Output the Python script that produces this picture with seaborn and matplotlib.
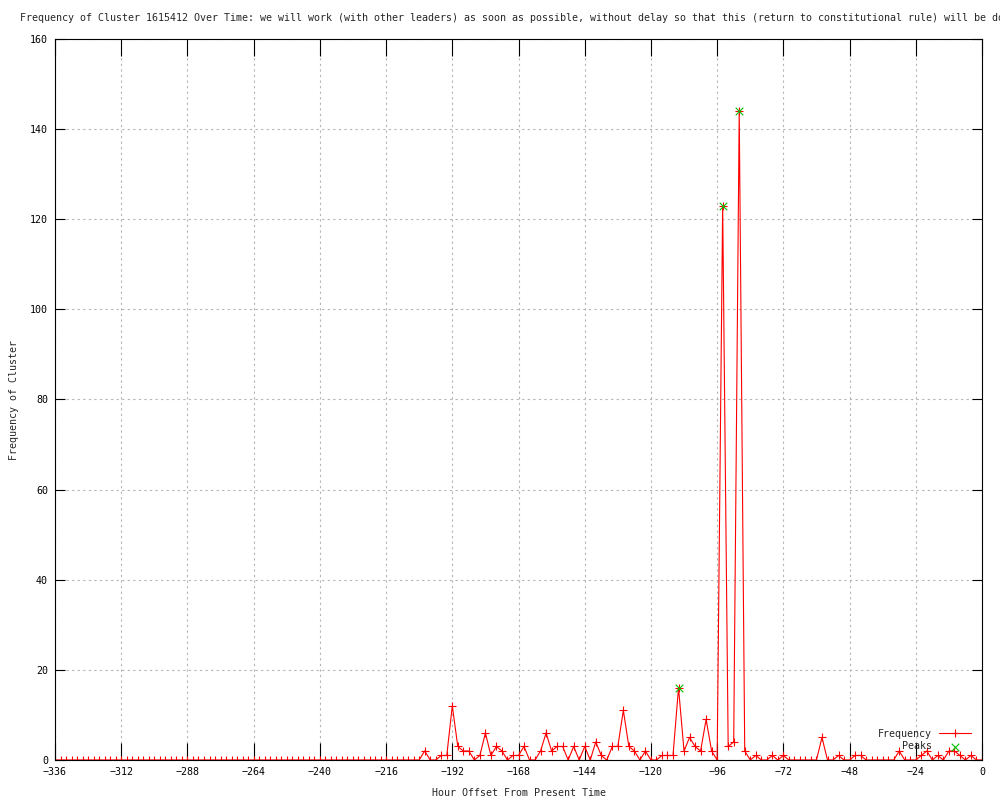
import numpy as np
import matplotlib
matplotlib.use("Agg")
import matplotlib.pyplot as plt
import seaborn as sns

sns.set_style("white")
plt.rcParams['font.family'] = ['DejaVu Sans Mono', 'DejaVu Sans']
plt.rcParams['font.size'] = 7.2

# hour offsets, one sample every 2 hours from -336 to 0
hours = np.arange(-336, 1, 2)

# frequency per sample (all zero until -204)
freq = [0] * 67 + [
    2, 0, 0, 1, 1, 12, 3, 2, 2, 0,        # -202 .. -184
    1, 6, 1, 3, 2, 0, 1, 1, 3, 0,         # -182 .. -164
    0, 2, 6, 2, 3, 3, 0, 3, 0, 3,         # -162 .. -144
    0, 4, 1, 0, 3, 3, 11, 3, 2, 0,        # -142 .. -124
    2, 0, 0, 1, 1, 1, 16, 2, 5, 3,        # -122 .. -104
    2, 9, 2, 0, 123, 3, 4, 144, 2, 0,     # -102 .. -84
    1, 0, 0, 1, 0, 1, 0, 0, 0, 0,         # -82 .. -64
    0, 0, 5, 0, 0, 1, 0, 0, 1, 1,         # -62 .. -44
    0, 0, 0, 0, 0, 0, 2, 0, 0, 0,         # -42 .. -24
    1, 2, 0, 1, 0, 2, 2, 1, 0, 1,         # -22 .. -4
    0, 0,                                 # -2 .. 0
]
assert len(freq) == len(hours)

peak_hours = [-110, -94, -88]
peak_freq = [16, 123, 144]

title = ("Frequency of Cluster 1615412 Over Time: we will work (with other leaders) "
         "as soon as possible, without delay so that this (return to constitutional rule) "
         "will be done")

fig = plt.figure(figsize=(10, 8), dpi=100)
ax = fig.add_axes([0.055, 0.05, 0.927, 0.90125])

sns.lineplot(x=hours, y=freq, ax=ax, color='#ff0000', linewidth=0.8,
             marker='+', markersize=6, markeredgewidth=0.8,
             markeredgecolor='#ff0000', label='Frequency')
sns.scatterplot(x=peak_hours, y=peak_freq, ax=ax, color='#00c000',
                marker='x', s=30, linewidth=0.8, label='    Peaks', zorder=3)

ax.set_xlim(-336, 0)
ax.set_ylim(0, 160)
ax.set_xticks(np.arange(-336, 1, 24))
ax.set_yticks(np.arange(0, 161, 20))

# gnuplot-ish dotted grid
ax.grid(True, color='#b4b4b4', linestyle=(0, (2, 3)), linewidth=0.8)
ax.set_axisbelow(True)
for sp in ax.spines.values():
    sp.set_color('black')
    sp.set_linewidth(0.8)
    sp.set_zorder(4)

ax.tick_params(axis='x', direction='in', length=12, width=0.8, pad=5,
               top=True, bottom=True, labelsize=7.2, colors='black')
ax.tick_params(axis='y', direction='in', length=7, width=0.8, pad=5,
               left=True, right=True, labelsize=7.2, colors='black')

ax.set_xlabel("Hour Offset From Present Time", fontsize=7.2, labelpad=8)
ax.set_ylabel("Frequency of Cluster", fontsize=7.2, labelpad=8)

fig.text(0.02, 0.977, title, ha='left', va='center', fontsize=7.2)

ax.legend(loc='lower right', bbox_to_anchor=(0.971, 0.061),
          bbox_transform=fig.transFigure, frameon=False, markerfirst=False,
          borderpad=0, borderaxespad=0, handlelength=3.2, handletextpad=0.7,
          labelspacing=0.25, fontsize=7.2)

fig.savefig("out.png", dpi=100, facecolor='white')
